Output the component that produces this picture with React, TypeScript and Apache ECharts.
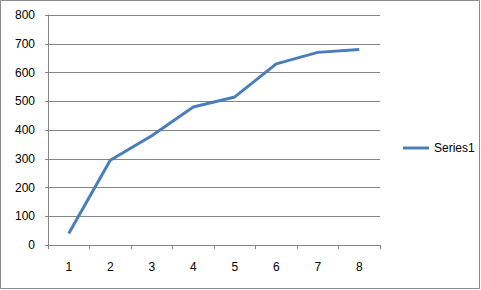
import React, { useEffect, useRef } from "react";
import * as echarts from "echarts";

const categories = ["1", "2", "3", "4", "5", "6", "7", "8"];
const series1 = [40, 295, 380, 480, 515, 630, 670, 680];
const seriesName = "Series1";

export default function App() {
  const ref = useRef<HTMLDivElement>(null);
  useEffect(() => {
    document.body.style.margin = "0";
    const chart = echarts.init(ref.current!, null, { renderer: "svg" });
    const font = "'Liberation Sans', Arial, sans-serif";
    chart.setOption({
      animation: false,
      backgroundColor: "#ffffff",
      grid: { left: 48, right: 101, top: 15, bottom: 45, containLabel: false },
      graphic: [
        {
          type: "rect",
          shape: { x: 0.5, y: 0.5, width: 479, height: 288 },
          style: { fill: "none", stroke: "#8c8c8c", lineWidth: 1 },
          silent: true,
        },
      ],
      legend: {
        data: [seriesName],
        left: 398,
        top: 137,
        icon: "rect",
        itemWidth: 26,
        itemHeight: 3,
        textStyle: { fontFamily: font, fontSize: 12, color: "#000" },
      },
      xAxis: {
        type: "category",
        data: categories,
        boundaryGap: true,
        axisLine: { lineStyle: { color: "#868686", width: 1 } },
        axisTick: { show: true, length: 4, alignWithLabel: false, lineStyle: { color: "#868686" } },
        axisLabel: { fontFamily: font, fontSize: 12, color: "#000", margin: 16 },
        splitLine: { show: false },
      },
      yAxis: {
        type: "value",
        min: 0,
        max: 800,
        interval: 100,
        axisLine: { show: true, lineStyle: { color: "#868686", width: 1 } },
        axisTick: { show: true, length: 3, lineStyle: { color: "#868686" } },
        axisLabel: { fontFamily: font, fontSize: 12, color: "#000", margin: 13 },
        splitLine: { show: true, lineStyle: { color: "#868686", width: 1 } },
      },
      series: [
        {
          name: seriesName,
          type: "line",
          data: series1,
          symbol: "none",
          lineStyle: { color: "#4a7ebb", width: 3 },
          itemStyle: { color: "#4a7ebb" },
        },
      ],
    });
    return () => chart.dispose();
  }, []);
  return <div ref={ref} style={{ width: 481, height: 290 }} />;
}
